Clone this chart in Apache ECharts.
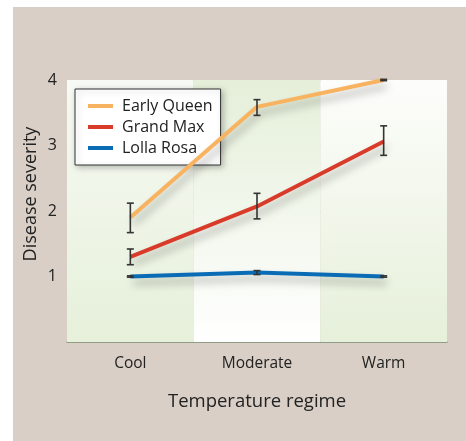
<!DOCTYPE html>
<html><head><meta charset="utf-8">
<script src="https://cdn.jsdelivr.net/npm/echarts@6/dist/echarts.min.js"></script>
<style>html,body{margin:0;padding:0;background:#fff}#c{width:466px;height:441px}</style>
</head><body><div id="c"></div>
<script>
const categories = ['Cool', 'Moderate', 'Warm'];
const earlyQueen = [1.90, 3.59, 4.00];
const earlyQueenLow = [1.67, 3.46, 3.99];
const earlyQueenHigh = [2.12, 3.70, 4.01];
const grandMax = [1.30, 2.07, 3.06];
const grandMaxLow = [1.18, 1.88, 2.85];
const grandMaxHigh = [1.42, 2.27, 3.30];
const lollaRosa = [1.00, 1.06, 1.00];
const lollaRosaLow = [0.99, 1.03, 0.99];
const lollaRosaHigh = [1.01, 1.09, 1.01];
const yTicks = [1, 2, 3, 4];
const bandTop = [4, 4, 4];

const FONT = '"Open Sans", "Noto Sans", sans-serif';
const TXT = '#222222';
const chart = echarts.init(document.getElementById('c'), null, {renderer: 'canvas'});

function grad(top, bottom) {
  return new echarts.graphic.LinearGradient(0, 0, 0, 1, [{offset: 0, color: top}, {offset: 1, color: bottom}]);
}
const bandColors = [grad('#f8faf5', '#e6f0da'), grad('#e5efd9', '#ffffff'), grad('#fdfdfb', '#e6f0da')];

function errData(lo, hi) { return categories.map((c, i) => [i, lo[i], hi[i]]); }
function errSeries(lo, hi) {
  return {
    type: 'custom', z: 5, silent: true,
    data: errData(lo, hi),
    encode: {x: 0, y: [1, 2]},
    renderItem: function (params, api) {
      const x = api.value(0);
      const a = api.coord([x, api.value(1)]);
      const b = api.coord([x, api.value(2)]);
      const w = 3.5;
      const st = {stroke: '#333', lineWidth: 1.6};
      return {type: 'group', children: [
        {type: 'line', shape: {x1: a[0], y1: a[1], x2: b[0], y2: b[1]}, style: st},
        {type: 'line', shape: {x1: a[0] - w, y1: a[1], x2: a[0] + w, y2: a[1]}, style: st},
        {type: 'line', shape: {x1: b[0] - w, y1: b[1], x2: b[0] + w, y2: b[1]}, style: st}
      ]};
    }
  };
}
function lineSeries(name, data, color) {
  return {
    name: name, type: 'line', data: data, symbol: 'none', z: 4,
    itemStyle: {color: color},
    lineStyle: {color: color, width: 4, shadowColor: 'rgba(0,0,0,0.3)', shadowBlur: 8, shadowOffsetX: 3, shadowOffsetY: 6}
  };
}

chart.setOption({
  backgroundColor: '#ffffff',
  animation: false,
  graphic: [{type: 'rect', z: -100, silent: true, shape: {x: 13, y: 7, width: 460, height: 440}, style: {fill: '#d9cfc6'}}],
  grid: {left: 67, right: 19, top: 80, bottom: 99},
  legend: {
    data: ['Early Queen', 'Grand Max', 'Lolla Rosa'],
    orient: 'vertical', left: 75, top: 89,
    icon: 'rect', itemWidth: 25, itemHeight: 4, itemGap: 5,
    padding: [9, 8, 9, 13],
    backgroundColor: '#ffffff', borderColor: '#333', borderWidth: 1,
    shadowColor: 'rgba(0,0,0,0.25)', shadowBlur: 6, shadowOffsetX: 2, shadowOffsetY: 2,
    textStyle: {fontFamily: FONT, fontSize: 16, color: TXT, padding: [0, 0, 0, 4]}
  },
  xAxis: {
    type: 'category', data: categories, boundaryGap: true,
    name: 'Temperature regime', nameLocation: 'middle', nameGap: 50,
    nameTextStyle: {fontFamily: FONT, fontSize: 18.5, color: TXT},
    axisLine: {lineStyle: {color: '#8c9c84', width: 1.5}},
    axisTick: {show: false},
    axisLabel: {fontFamily: FONT, fontSize: 15.5, color: TXT, margin: 14}
  },
  yAxis: {
    type: 'value', min: 0, max: 4, interval: 1,
    name: 'Disease severity', nameLocation: 'middle', nameGap: 27, nameMoveOverlap: false,
    nameTextStyle: {fontFamily: FONT, fontSize: 18, color: TXT, padding: [0, 0, 0, 34]},
    axisLine: {show: false}, axisTick: {show: false},
    axisLabel: {fontFamily: FONT, fontSize: 16, color: TXT, margin: 10,
      formatter: v => yTicks.indexOf(v) >= 0 ? String(v) : ''},
    splitLine: {lineStyle: {color: '#97a48e', width: 1.2}}
  },
  series: [
    {type: 'bar', silent: true, z: 0, barWidth: '100%', barCategoryGap: 0,
      data: bandTop.map((v, i) => ({value: v, itemStyle: {color: bandColors[i]}}))},
    lineSeries('Early Queen', earlyQueen, '#f8b361'),
    lineSeries('Grand Max', grandMax, '#d93b2a'),
    lineSeries('Lolla Rosa', lollaRosa, '#0b6cb6'),
    errSeries(earlyQueenLow, earlyQueenHigh),
    errSeries(grandMaxLow, grandMaxHigh),
    errSeries(lollaRosaLow, lollaRosaHigh)
  ]
});
</script></body></html>
